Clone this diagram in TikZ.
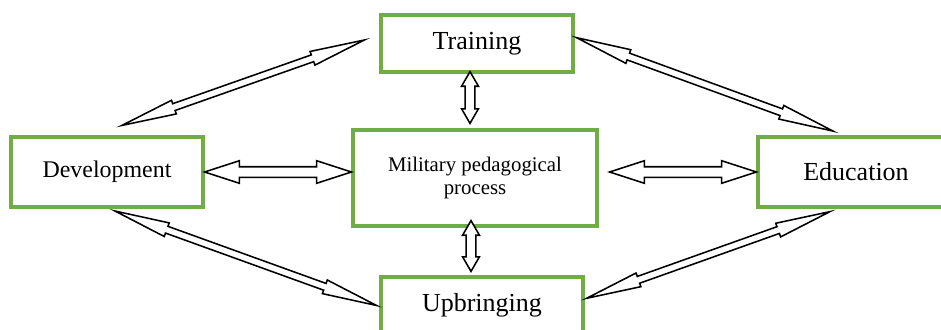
\documentclass[tikz,border=0pt]{standalone}
\usepackage{fontspec}
\setmainfont{Liberation Serif}
\usetikzlibrary{calc,shapes.arrows}

\definecolor{boxgreen}{RGB}{112,173,71}

% hollow two-headed arrow laid between two named points
\newcommand\linkarrow[3]{%
    \path let \p1=($(#3)-(#2)$), \n1={veclen(\x1,\y1)}, \n2={atan2(\y1,\x1)} in
        node[#1, minimum height=\n1, rotate=\n2] at ($(#2)!0.5!(#3)$) {};}

\begin{document}
\begin{tikzpicture}[
    box/.style={draw=boxgreen, line width=2.3pt, fill=white, align=center, inner sep=0pt},
    twohead/.style={double arrow, draw=black, line width=1.1pt, fill=white,
        inner xsep=0pt, minimum width=0pt},
    diagarrow/.style={twohead, inner ysep=2pt, double arrow head extend=2.6pt, double arrow tip angle=15},
    flatarrow/.style={twohead, inner ysep=3.2pt, double arrow head extend=4.3pt, double arrow tip angle=36},
    uparrow/.style={twohead, inner ysep=2.85pt, double arrow head extend=2.6pt, double arrow tip angle=60},
]
    \useasboundingbox (0,0) rectangle (23.525,-8.225);

    % Boxes
    \node[box, minimum width=4.8cm, minimum height=1.425cm, font=\fontsize{18.5}{20}\selectfont] (trn) at (11.925,-1.0875) {Training};
    \node[box, minimum width=4.8cm, minimum height=1.75cm, font=\fontsize{17}{19}\selectfont] (dev) at (2.675,-4.3) {Development};
    \node[box, minimum width=6.1cm, minimum height=2.4cm, font=\fontsize{14.8}{16.6}\selectfont] (mil) at (11.875,-4.45) {Military pedagogical\\process};
    \node[box, minimum width=4.9cm, minimum height=1.75cm, font=\fontsize{18.5}{20}\selectfont] (edu) at (21.4,-4.3) {Education};
    \node[box, minimum width=5.05cm, minimum height=1.425cm, font=\fontsize{18.5}{20}\selectfont] (upb) at (12.05,-7.6375) {Upbringing};

    % Arrow ends
    \coordinate (dt1) at ($(dev.north)+(0.375,0.25)$);
    \coordinate (dt2) at ($(trn.west)+(-0.375,0.0875)$);
    \coordinate (te1) at ($(trn.east)+(0.05,0.145)$);
    \coordinate (te2) at ($(edu.north)+(-0.575,0.1075)$);
    \coordinate (du1) at ($(dev.south)+(0.2,-0.06)$);
    \coordinate (du2) at ($(upb.west)+(-0.07,0)$);
    \coordinate (ue1) at ($(upb.east)+(0.05,0.18)$);
    \coordinate (ue2) at ($(edu.south)+(-0.65,-0.075)$);
    \coordinate (dm1) at (dev.east);
    \coordinate (dm2) at (dev.east -| mil.west);
    \coordinate (me1) at ($(edu.west -| mil.east)+(0.275,0)$);
    \coordinate (me2) at (edu.west);
    \coordinate (tm1) at ($(trn.south)+(-0.175,0.05)$);
    \coordinate (tm2) at ($(mil.north)+(-0.125,0.125)$);
    \coordinate (mu1) at ($(mil.south)+(-0.1,0.175)$);
    \coordinate (mu2) at ($(upb.north)+(-0.275,0.1)$);

    % Links
    \linkarrow{diagarrow}{dt1}{dt2}
    \linkarrow{diagarrow}{te1}{te2}
    \linkarrow{diagarrow}{du1}{du2}
    \linkarrow{diagarrow}{ue1}{ue2}
    \linkarrow{flatarrow}{dm1}{dm2}
    \linkarrow{flatarrow}{me1}{me2}
    \linkarrow{uparrow}{tm1}{tm2}
    \linkarrow{uparrow}{mu1}{mu2}
\end{tikzpicture}
\end{document}
